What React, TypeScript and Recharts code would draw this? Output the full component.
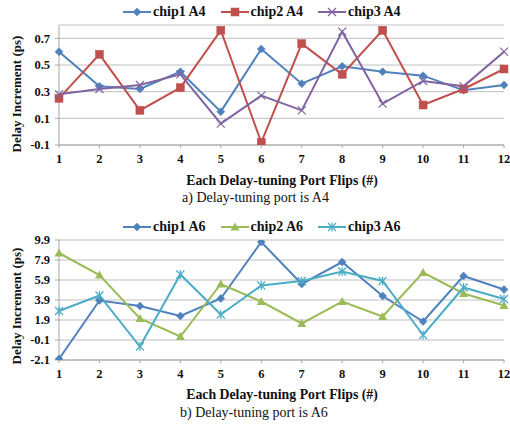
import React from "react";
import { LineChart, Line, XAxis, YAxis, CartesianGrid, Legend } from "recharts";

const flips = [1, 2, 3, 4, 5, 6, 7, 8, 9, 10, 11, 12];

const chip1A4 = [0.6, 0.34, 0.32, 0.45, 0.15, 0.62, 0.36, 0.49, 0.45, 0.42, 0.31, 0.35];
const chip2A4 = [0.25, 0.58, 0.16, 0.33, 0.76, -0.08, 0.66, 0.43, 0.76, 0.2, 0.32, 0.47];
const chip3A4 = [0.28, 0.32, 0.35, 0.43, 0.06, 0.27, 0.16, 0.75, 0.21, 0.38, 0.34, 0.6];

const chip1A6 = [-2.0, 3.85, 3.3, 2.3, 4.05, 9.7, 5.5, 7.7, 4.3, 1.75, 6.3, 4.95];
const chip2A6 = [8.6, 6.4, 2.05, 0.25, 5.5, 3.75, 1.55, 3.75, 2.25, 6.65, 4.55, 3.35];
const chip3A6 = [2.8, 4.35, -0.75, 6.45, 2.45, 5.35, 5.8, 6.75, 5.8, 0.4, 5.15, 4.0];

const ticksA = [-0.1, 0.1, 0.3, 0.5, 0.7];
const ticksB = [-2.1, -0.1, 1.9, 3.9, 5.9, 7.9, 9.9];

const rowsA = flips.map((x, i) => ({ x, c1: chip1A4[i], c2: chip2A4[i], c3: chip3A4[i] }));
const rowsB = flips.map((x, i) => ({ x, c1: chip1A6[i], c2: chip2A6[i], c3: chip3A6[i] }));

const BLUE = "#4F81BD";
const RED = "#C0504D";
const PURPLE = "#8064A2";
const GREEN = "#9BBB59";
const AQUA = "#4BACC6";

const FONT = "Liberation Serif";

type MarkerKind = "diamond" | "square" | "x" | "triangle" | "star";

function Marker({ kind, cx, cy, color }: { kind: MarkerKind; cx: number; cy: number; color: string }) {
  if (cx == null || cy == null || isNaN(cx) || isNaN(cy)) return null;
  switch (kind) {
    case "diamond":
      return <path d={`M${cx},${cy - 4}L${cx + 4},${cy}L${cx},${cy + 4}L${cx - 4},${cy}Z`} fill={color} stroke={color} strokeWidth={0.5} />;
    case "square":
      return <rect x={cx - 4} y={cy - 4} width={8} height={8} fill={color} stroke={color} strokeWidth={0.5} />;
    case "triangle":
      return <path d={`M${cx},${cy - 4.5}L${cx + 4.5},${cy + 3.5}L${cx - 4.5},${cy + 3.5}Z`} fill={color} />;
    case "x":
      return (
        <g stroke={color} strokeWidth={1.2}>
          <line x1={cx - 4} y1={cy - 4} x2={cx + 4} y2={cy + 4} />
          <line x1={cx - 4} y1={cy + 4} x2={cx + 4} y2={cy - 4} />
        </g>
      );
    case "star":
      return (
        <g stroke={color} strokeWidth={1.2}>
          <line x1={cx - 4} y1={cy - 4} x2={cx + 4} y2={cy + 4} />
          <line x1={cx - 4} y1={cy + 4} x2={cx + 4} y2={cy - 4} />
          <line x1={cx} y1={cy - 4.5} x2={cx} y2={cy + 4.5} />
        </g>
      );
  }
  return null;
}

type SeriesDef = { key: string; name: string; color: string; marker: MarkerKind };

const seriesA: SeriesDef[] = [
  { key: "c1", name: "chip1 A4", color: BLUE, marker: "diamond" },
  { key: "c2", name: "chip2 A4", color: RED, marker: "square" },
  { key: "c3", name: "chip3 A4", color: PURPLE, marker: "x" },
];
const seriesB: SeriesDef[] = [
  { key: "c1", name: "chip1 A6", color: BLUE, marker: "diamond" },
  { key: "c2", name: "chip2 A6", color: GREEN, marker: "triangle" },
  { key: "c3", name: "chip3 A6", color: AQUA, marker: "star" },
];

function makeLegend(series: SeriesDef[]) {
  return () => (
    <div style={{ height: 25, width: 510, position: "relative", fontFamily: FONT }}>
      {series.map((s, i) => (
        <div
          key={s.key}
          style={{ position: "absolute", left: 123 + i * 97.5, top: 3, height: 18, display: "flex", alignItems: "center" }}
        >
          <svg width={28} height={12} style={{ display: "block" }}>
            <line x1={0} y1={6} x2={28} y2={6} stroke={s.color} strokeWidth={2} />
            <Marker kind={s.marker} cx={14} cy={6} color={s.color} />
          </svg>
          <span style={{ marginLeft: 2, fontSize: 14, fontWeight: "bold", color: "#111", whiteSpace: "nowrap", fontFamily: FONT }}>{s.name}</span>
        </div>
      ))}
    </div>
  );
}

const tickStyle = { fontSize: 12.5, fontWeight: "bold" as const, fill: "#111", fontFamily: FONT };
const AXIS = "#A6A6A6";

function Panel({ data, series, domain, ticks }: { data: any[]; series: SeriesDef[]; domain: [number, number]; ticks: number[] }) {
  return (
    <LineChart width={510} height={200} data={data} margin={{ top: 0, right: 6, left: 19, bottom: 0 }} style={{ fontFamily: FONT }}>
      <Legend verticalAlign="top" align="left" content={makeLegend(series)} wrapperStyle={{ left: 0, top: 0, width: 510 }} />
      <CartesianGrid horizontal={true} vertical={false} stroke="#BFBFBF" strokeWidth={1} />
      <XAxis
        dataKey="x"
        type="number"
        domain={[1, 12]}
        ticks={flips}
        interval={0}
        height={55}
        tick={tickStyle}
        tickSize={3}
        tickMargin={6}
        stroke={AXIS}
        tickLine={{ stroke: AXIS }}
        axisLine={{ stroke: AXIS }}
      />
      <YAxis
        type="number"
        domain={domain}
        ticks={ticks}
        interval={0}
        width={40}
        allowDataOverflow
        tick={tickStyle}
        tickSize={4}
        tickMargin={5}
        tickFormatter={(v: number) => v.toFixed(1)}
        tickLine={{ stroke: AXIS }}
        axisLine={{ stroke: AXIS }}
      />
      {series.map((s) => (
        <Line
          key={s.key}
          dataKey={s.key}
          name={s.name}
          type="linear"
          stroke={s.color}
          strokeWidth={2}
          isAnimationActive={false}
          dot={(p: any) => <Marker key={`${s.key}-${p.index}`} kind={s.marker} cx={p.cx} cy={p.cy} color={s.color} />}
          activeDot={false}
        />
      ))}
    </LineChart>
  );
}

const titleStyle: React.CSSProperties = {
  position: "absolute",
  fontFamily: FONT,
  fontWeight: "bold",
  fontSize: 13,
  color: "#111",
  whiteSpace: "nowrap",
};
const captionStyle: React.CSSProperties = {
  position: "absolute",
  fontFamily: FONT,
  fontSize: 14,
  color: "#111",
  whiteSpace: "nowrap",
};

export default function App() {
  return (
    <div style={{ position: "absolute", left: 0, top: 0, width: 510, height: 433, background: "#fff", overflow: "hidden", fontFamily: FONT }}>
      <div style={{ position: "absolute", left: 0, top: 0 }}>
        <Panel data={rowsA} series={seriesA} domain={[-0.1, 0.8]} ticks={ticksA} />
      </div>
      <div style={{ position: "absolute", left: 0, top: 215 }}>
        <Panel data={rowsB} series={seriesB} domain={[-2.1, 9.9]} ticks={ticksB} />
      </div>

      <div style={{ ...titleStyle, left: 17, top: 94, transform: "translate(-50%, -50%) rotate(-90deg)" }}>Delay Increment (ps)</div>
      <div style={{ ...titleStyle, left: 17, top: 306, transform: "translate(-50%, -50%) rotate(-90deg)" }}>Delay Increment (ps)</div>

      <div style={{ ...titleStyle, fontSize: 13.8, left: 282, top: 181, transform: "translate(-50%, -50%)" }}>Each Delay-tuning Port Flips (#)</div>
      <div style={{ ...titleStyle, fontSize: 13.8, left: 282, top: 395, transform: "translate(-50%, -50%)" }}>Each Delay-tuning Port Flips (#)</div>

      <div style={{ ...captionStyle, left: 182, top: 198, transform: "translate(0, -50%)" }}>a) Delay-tuning port is A4</div>
      <div style={{ ...captionStyle, left: 180, top: 413, transform: "translate(0, -50%)" }}>b) Delay-tuning port is A6</div>
    </div>
  );
}
